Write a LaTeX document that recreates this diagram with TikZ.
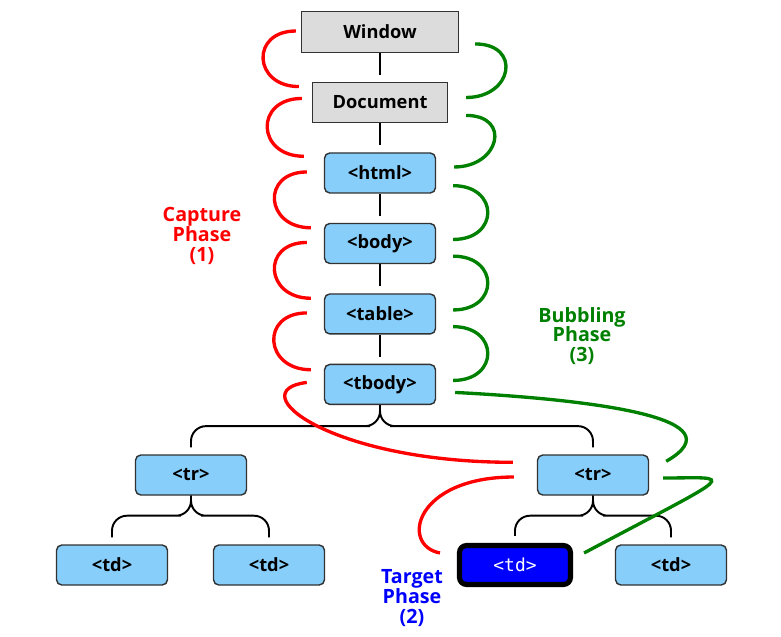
\documentclass[tikz,border=0pt]{standalone}
\usepackage{fontspec}
\setmainfont{Open Sans}
\setmonofont{DejaVu Sans Mono}
\usetikzlibrary{calc}

\definecolor{boxgray}{RGB}{220,220,220}
\definecolor{tagblue}{RGB}{135,206,250}
\definecolor{edgegray}{RGB}{50,50,50}
\definecolor{capred}{RGB}{255,0,0}
\definecolor{bubgreen}{RGB}{0,128,0}
\definecolor{tgtblue}{RGB}{0,0,255}

\begin{document}
\begin{tikzpicture}[x=0.02cm, y=-0.02cm, node distance=1.41cm, font=\fontsize{10.4}{11.3}\selectfont\bfseries]
    \tikzstyle{box}=[draw=edgegray, fill=boxgray, line width=0.8pt, minimum height=0.81cm, inner sep=0pt]
    \tikzstyle{tag}=[draw=edgegray, fill=tagblue, line width=0.8pt, rounded corners=3pt, minimum width=2.22cm, minimum height=0.8cm, inner sep=0pt]
    \tikzstyle{target}=[tag, draw=black, fill=tgtblue, line width=2.9pt, rounded corners=4pt, text=white, font=\fontsize{10.2}{12}\selectfont\ttfamily\mdseries, minimum height=0.78cm]
    \tikzstyle{tree}=[draw=black, line width=1.1pt, rounded corners=0.3cm, shorten >=0.14cm]
    \tikzstyle{capture}=[draw=capred, line width=1.9pt]
    \tikzstyle{bubble}=[draw=bubgreen, line width=1.9pt]
    \tikzstyle{phase}=[align=center, font=\fontsize{11.2}{11.3}\selectfont\bfseries]

    \useasboundingbox (0,0) rectangle (781,636);

    % the chain from window down to tbody
    \node[box, minimum width=3.14cm] (win) at (380,32) {Window};
    \node[box, minimum width=2.7cm, below of=win] (doc) {Document};
    \node[tag, below of=doc] (html) {<html>};
    \node[tag, below of=html] (body) {<body>};
    \node[tag, below of=body] (tab) {<table>};
    \node[tag, below of=tab] (tbody) {<tbody>};

    \node[tag] (trL) at (191,475) {<tr>};
    \node[tag] (trR) at (593,475) {<tr>};
    \node[tag] (tdA) at (112,565) {<td>};
    \node[tag] (tdB) at (269,565) {<td>};
    \node[target] (tdC) at (515,565) {<td>};
    \node[tag] (tdD) at (671,565) {<td>};

    \draw[tree] (win) -- (doc);
    \draw[tree] (doc) -- (html);
    \draw[tree] (html) -- (body);
    \draw[tree] (body) -- (tab);
    \draw[tree] (tab) -- (tbody);

    \draw[tree] (tbody.south) |- ++(-25,21) -| (trL.north);
    \draw[tree] (tbody.south) |- ++(25,21) -| (trR.north);
    \draw[tree] (trL.south) |- ++(-25,20) -| (tdA.north);
    \draw[tree] (trL.south) |- ++(25,20) -| (tdB.north);
    \draw[tree] (trR.south) |- ++(-25,20) -| (tdC.north);
    \draw[tree] (trR.south) |- ++(25,20) -| (tdD.north);

    % capture phase
    \draw[capture] ($(win.west)+(-5,-1)$) to[out=180, in=180, looseness=2.1] ($(doc.north west)+(-13,5)$);
    \draw[capture] ($(doc.west)+(-10,-4)$) to[out=180, in=180, looseness=2.1] ($(html.north west)+(-20,4)$);
    \draw[capture] ($(html.west)+(-17,-1)$) to[out=180, in=180, looseness=2.1] ($(body.north west)+(-13,5)$);
    \draw[capture] ($(body.west)+(-17,-1)$) to[out=180, in=180, looseness=2.1] ($(tab.north west)+(-13,5)$);
    \draw[capture] ($(tab.west)+(-17,-1)$) to[out=180, in=180, looseness=2.1] ($(tbody.north west)+(-13,6)$);
    \draw[capture] ($(tbody.west)+(-17,-2)$) to[out=187, in=180, out distance=1.35cm, in distance=3.66cm] ($(trR.north west)+(-24,8)$);
    \draw[capture] ($(trR.west)+(-23,2)$) to[out=180, in=169, out distance=1.98cm, in distance=0.82cm] ($(tdC.west)+(-17,-12)$);

    % bubbling phase
    \draw[bubble] ($(tdC.east)+(11,-12)$) to[out=28, in=0, out distance=3.56cm, in distance=1.44cm] ($(trR.east)+(14,3)$);
    \draw[bubble] ($(trR.north east)+(17,7)$) to[out=30, in=-3, out distance=1.7cm, in distance=2.88cm] ($(tbody.east)+(19,8)$);
    \draw[bubble] ($(tab.south east)+(17,-8)$) to[out=0, in=0, looseness=2.2] ($(tbody.east)+(17,-4)$);
    \draw[bubble] ($(body.south east)+(17,-8)$) to[out=0, in=0, looseness=2.2] ($(tab.east)+(17,-4)$);
    \draw[bubble] ($(html.south east)+(17,-8)$) to[out=0, in=0, looseness=2.2] ($(body.east)+(17,-4)$);
    \draw[bubble] ($(doc.south east)+(18,-8)$) to[out=0, in=0, looseness=2.2] ($(html.east)+(18,-6)$);
    \draw[bubble] ($(win.south east)+(16,-9)$) to[out=0, in=0, looseness=2.2] ($(doc.east)+(18,-5)$);

    \node[phase, text=capred] (cap) at (202,236) {Capture\\Phase\\(1)};
    \node[phase, text=bubgreen] (bub) at (582,336) {Bubbling\\Phase\\(3)};
    \node[phase, text=tgtblue] (tgt) at (412,598) {Target\\Phase\\(2)};
\end{tikzpicture}
\end{document}
